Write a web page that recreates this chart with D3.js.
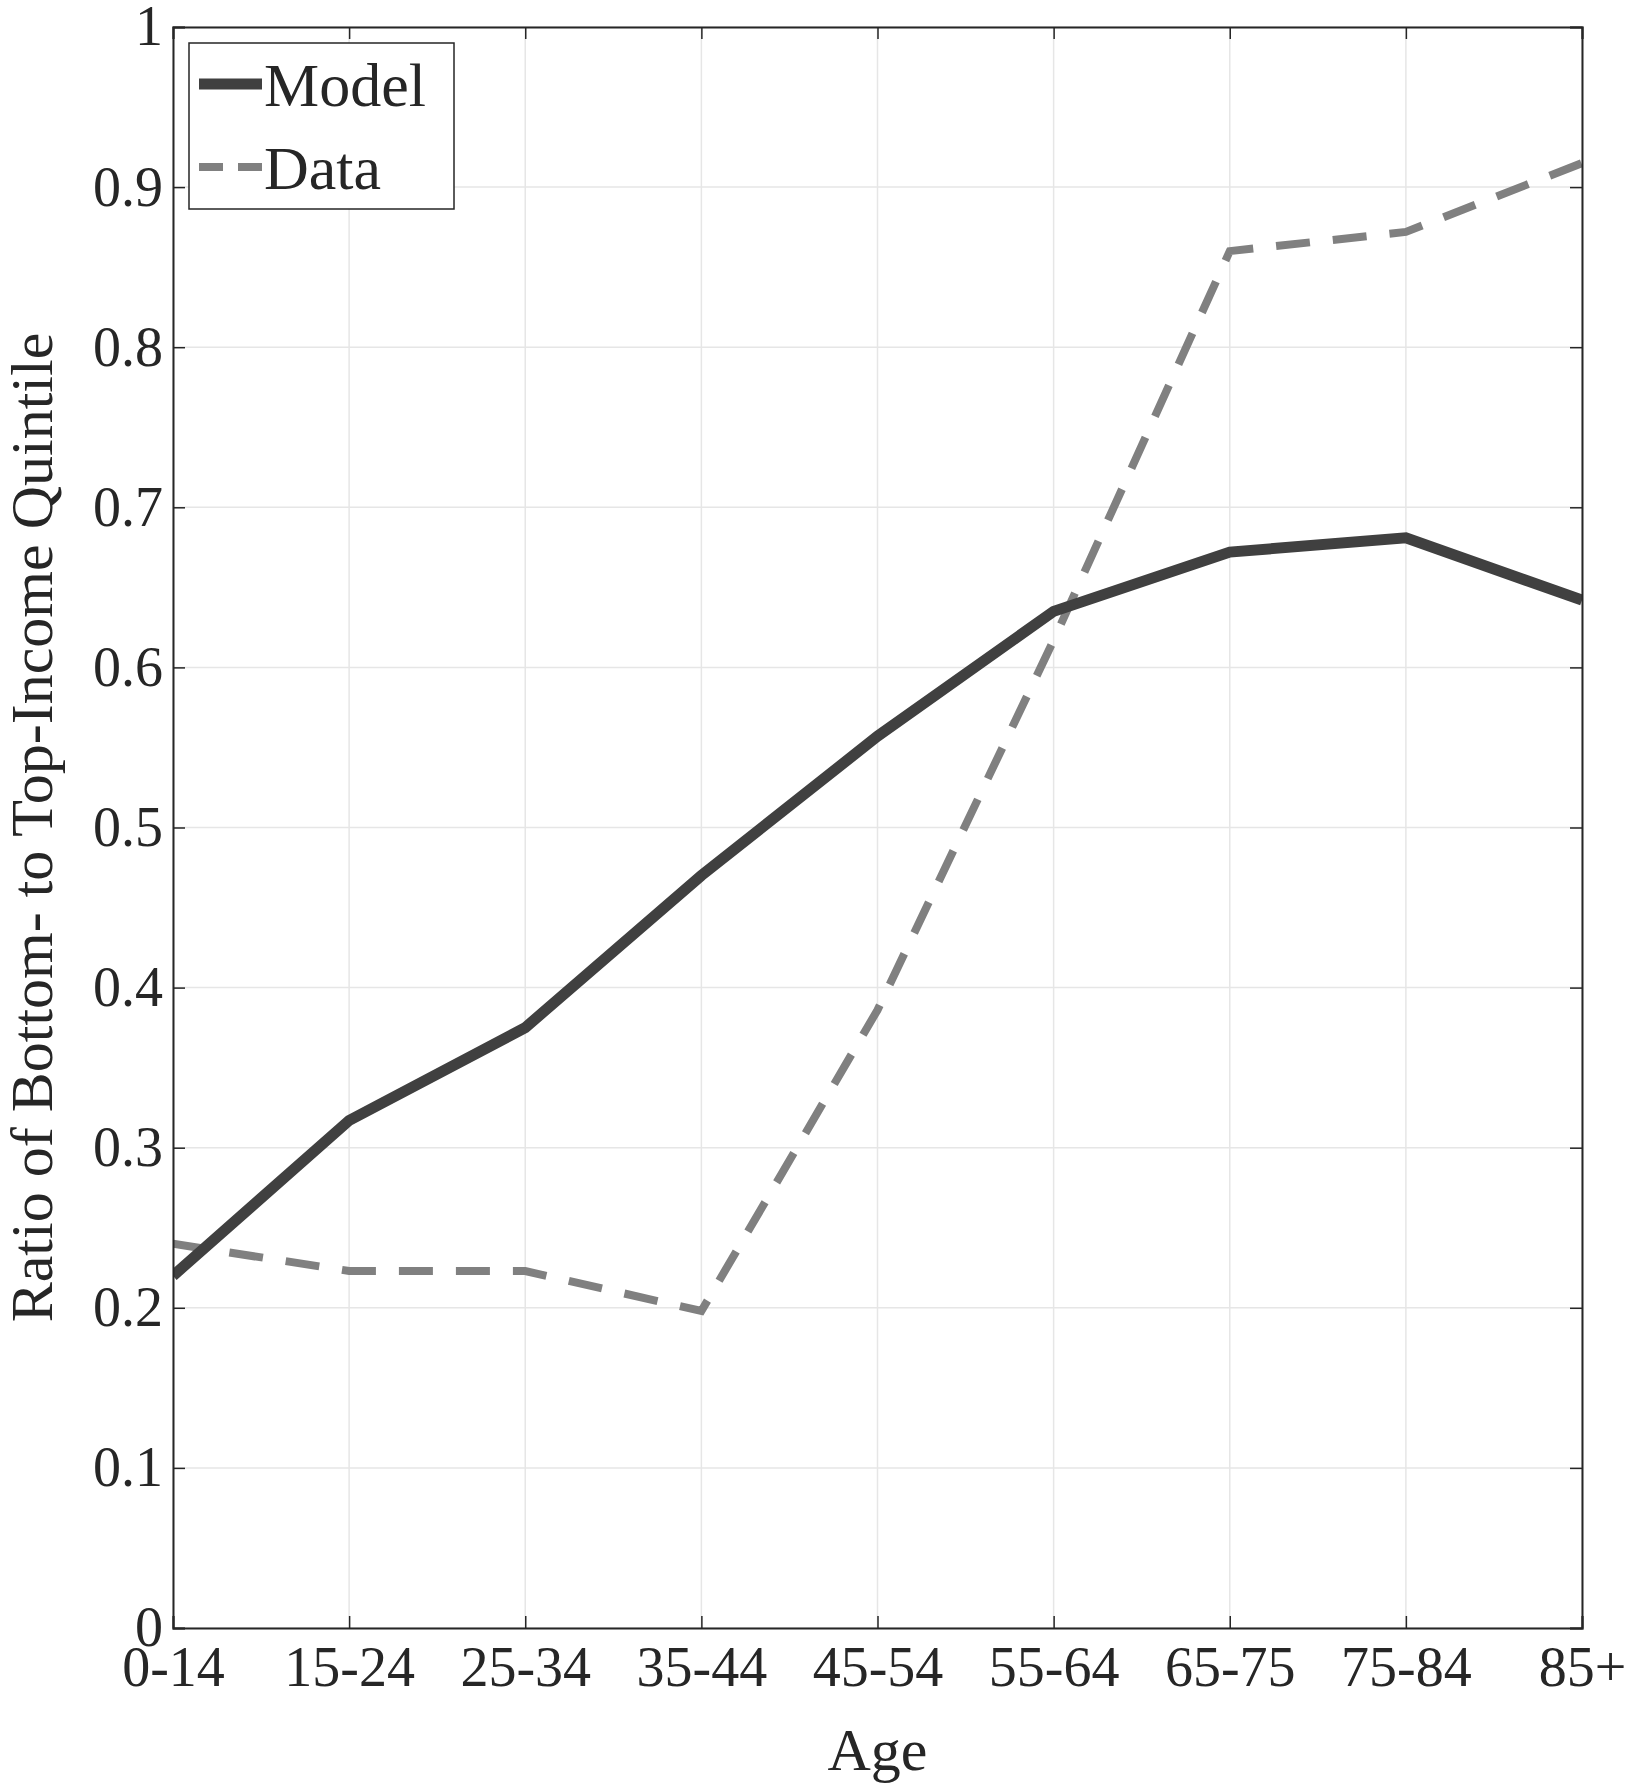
<!DOCTYPE html><html><head><script src="https://cdn.jsdelivr.net/npm/d3@7"></script>
<style>body{margin:0;background:#fff}text{font-family:"Liberation Serif","Times New Roman",serif;fill:#262626}</style></head><body>
<svg id="c" width="1632" height="1791"></svg>
<script>
const categories=["0-14","15-24","25-34","35-44","45-54","55-64","65-75","75-84","85+"];
const model=[0.22,0.317,0.375,0.47,0.557,0.635,0.672,0.681,0.642];
const data=[0.24,0.223,0.223,0.198,0.386,0.617,0.86,0.872,0.915];
const yTicks=[0,0.1,0.2,0.3,0.4,0.5,0.6,0.7,0.8,0.9,1];
const L=173,R=1582,T=27,B=1628;
const svg=d3.select("#c");
const x=d3.scalePoint().domain(categories).range([L,R]);
const y=d3.scaleLinear().domain([0,1]).range([B,T]);
const g=svg.append("g");
g.selectAll(".gx").data(categories).enter().append("line").attr("x1",d=>x(d)).attr("x2",d=>x(d)).attr("y1",T).attr("y2",B).attr("stroke","#e6e6e6").attr("stroke-width",1.5);
g.selectAll(".gy").data(yTicks).enter().append("line").attr("y1",d=>y(d)).attr("y2",d=>y(d)).attr("x1",L).attr("x2",R).attr("stroke","#e6e6e6").attr("stroke-width",1.5);
const ln=d3.line().x((d,i)=>x(categories[i])).y(d=>y(d));
svg.append("defs").append("clipPath").attr("id","cp").append("rect").attr("x",L).attr("y",T).attr("width",R-L).attr("height",B-T);
svg.append("path").attr("clip-path","url(#cp)").attr("d",ln(data)).attr("fill","none").attr("stroke","#808080").attr("stroke-width",8).attr("stroke-dasharray","34,23");
svg.append("path").attr("clip-path","url(#cp)").attr("d",ln(model)).attr("fill","none").attr("stroke","#404040").attr("stroke-width",11);
const ax=svg.append("g").attr("transform",`translate(0,${B})`).call(d3.axisBottom(x).tickSize(-12).tickPadding(18));
const ay=svg.append("g").attr("transform",`translate(${L},0)`).call(d3.axisLeft(y).tickValues(yTicks).tickFormat(d=>d===0||d===1?d:d3.format(".1f")(d)).tickSize(-12).tickPadding(10));
svg.append("g").attr("transform",`translate(0,${T})`).call(d3.axisTop(x).tickSize(-12).tickFormat(""));
svg.append("g").attr("transform",`translate(${R},0)`).call(d3.axisRight(y).tickValues(yTicks).tickSize(-12).tickFormat(""));
svg.selectAll(".domain").attr("stroke","#262626").attr("stroke-width",2);
svg.selectAll(".tick line").attr("stroke","#262626").attr("stroke-width",1.5);
svg.selectAll(".tick text").style("font-size","56px").style("fill","#262626").attr("font-family","Liberation Serif");
ax.selectAll(".tick text").attr("dy","0.71em");
svg.append("text").attr("x",(L+R)/2).attr("y",1770).attr("text-anchor","middle").style("font-size","60px").text("Age");
svg.append("text").attr("transform",`translate(52,${(T+B)/2}) rotate(-90)`).attr("text-anchor","middle").style("font-size","60px").text("Ratio of Bottom- to Top-Income Quintile");
const lg=svg.append("g");
lg.append("rect").attr("x",189).attr("y",43).attr("width",265).attr("height",166).attr("fill","#fff").attr("stroke","#262626").attr("stroke-width",1.5);
lg.append("line").attr("x1",199).attr("x2",262).attr("y1",84).attr("y2",84).attr("stroke","#404040").attr("stroke-width",11);
lg.append("line").attr("x1",199).attr("x2",262).attr("y1",167).attr("y2",167).attr("stroke","#808080").attr("stroke-width",8).attr("stroke-dasharray","24,15");
lg.append("text").attr("x",264).attr("y",106).style("font-size","62px").text("Model");
lg.append("text").attr("x",264).attr("y",189).style("font-size","62px").text("Data");
</script></body></html>
